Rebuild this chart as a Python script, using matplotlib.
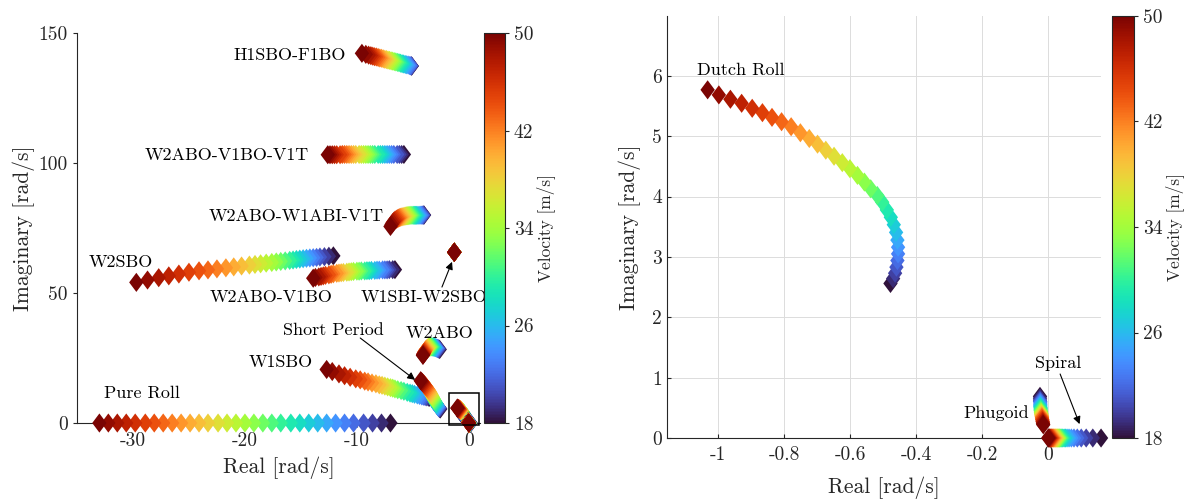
import matplotlib
matplotlib.use("Agg")
import matplotlib.pyplot as plt
from matplotlib.patches import Rectangle

plt.rcParams["font.family"] = ["cmr10", "DejaVu Serif"]
plt.rcParams["axes.unicode_minus"] = False
plt.rcParams["axes.formatter.use_mathtext"] = False

# airspeed sweep [m/s]
velocity = [18, 19, 20, 21, 22, 23, 24, 25, 26, 27, 28, 29, 30, 31, 32, 33, 34,
            35, 36, 37, 38, 39, 40, 41, 42, 43, 44, 45, 46, 47, 48, 49, 50]

# eigenvalue loci, one entry per velocity (real part, imaginary part)
pure_roll_re = [-7.0, -7.8, -8.6, -9.4, -10.3, -11.1, -11.9, -12.7, -13.5, -14.3, -15.1,
                -15.9, -16.8, -17.6, -18.4, -19.2, -20.0, -20.8, -21.6, -22.4, -23.3, -24.1,
                -24.9, -25.7, -26.5, -27.3, -28.1, -28.9, -29.8, -30.6, -31.4, -32.2, -33.0]
pure_roll_im = [0.0, 0.0, 0.0, 0.0, 0.0, 0.0, 0.0, 0.0, 0.0, 0.0, 0.0,
                0.0, 0.0, 0.0, 0.0, 0.0, 0.0, 0.0, 0.0, 0.0, 0.0, 0.0,
                0.0, 0.0, 0.0, 0.0, 0.0, 0.0, 0.0, 0.0, 0.0, 0.0, 0.0]

w2sbo_re = [-12.1, -12.5, -12.9, -13.3, -13.6, -13.9, -14.2, -14.5, -14.8, -15.1, -15.4,
            -15.7, -16.0, -16.4, -16.8, -17.2, -17.6, -18.1, -18.6, -19.1, -19.6, -20.3,
            -21.0, -21.7, -22.5, -23.3, -24.1, -25.0, -25.9, -26.8, -27.7, -28.7, -29.7]
w2sbo_im = [64.3, 64.15, 64.0, 63.85, 63.7, 63.6, 63.5, 63.35, 63.2, 63.05, 62.9,
            62.7, 62.55, 62.35, 62.15, 61.95, 61.75, 61.5, 61.25, 61.0, 60.75, 60.4,
            60.05, 59.7, 59.3, 58.9, 58.55, 58.0, 57.3, 56.6, 55.9, 55.0, 54.1]

w2abo_v1bo_re = [-6.6, -6.8, -7.1, -7.3, -7.5, -7.7, -8.0, -8.2, -8.4, -8.7, -8.9,
                 -9.1, -9.3, -9.6, -9.8, -10.0, -10.3, -10.5, -10.7, -10.9, -11.2, -11.4,
                 -11.6, -11.8, -12.1, -12.3, -12.5, -12.8, -13.0, -13.2, -13.4, -13.7, -13.9]
w2abo_v1bo_im = [59.0, 59.0, 59.0, 58.9, 58.9, 58.9, 58.8, 58.8, 58.7, 58.7, 58.6,
                 58.6, 58.5, 58.5, 58.4, 58.4, 58.3, 58.2, 58.1, 58.0, 57.9, 57.8,
                 57.7, 57.6, 57.4, 57.2, 57.0, 56.8, 56.6, 56.4, 56.2, 56.0, 55.7]

# this pair barely moves with speed: every point sits under the 50 m/s one
w1sbi_w2sbo_re = [-1.3, -1.3, -1.3, -1.3, -1.3, -1.3, -1.3, -1.3, -1.3, -1.3, -1.3,
                  -1.3, -1.3, -1.3, -1.3, -1.3, -1.3, -1.3, -1.3, -1.3, -1.3, -1.3,
                  -1.3, -1.3, -1.3, -1.3, -1.3, -1.3, -1.3, -1.3, -1.3, -1.3, -1.3]
w1sbi_w2sbo_im = [65.7, 65.7, 65.7, 65.7, 65.7, 65.7, 65.7, 65.7, 65.7, 65.7, 65.7,
                  65.7, 65.7, 65.7, 65.7, 65.7, 65.7, 65.7, 65.7, 65.7, 65.7, 65.7,
                  65.7, 65.7, 65.7, 65.7, 65.7, 65.7, 65.7, 65.7, 65.7, 65.7, 65.7]

w2abo_w1abi_v1t_re = [-4.0, -4.02, -4.05, -4.1, -4.17, -4.25, -4.35, -4.45, -4.55, -4.66, -4.76,
                      -4.86, -4.96, -5.07, -5.17, -5.27, -5.37, -5.47, -5.58, -5.68, -5.78, -5.88,
                      -5.98, -6.09, -6.19, -6.29, -6.39, -6.49, -6.6, -6.7, -6.8, -6.9, -7.0]
w2abo_w1abi_v1t_im = [80.0, 80.0, 80.0, 80.0, 79.95, 79.95, 79.95, 79.9, 79.9, 79.9, 79.9,
                      79.9, 79.9, 79.9, 79.9, 79.85, 79.8, 79.75, 79.7, 79.6, 79.5, 79.4,
                      79.3, 79.15, 79.0, 78.8, 78.6, 78.3, 78.0, 77.6, 77.1, 76.4, 75.6]

w2abo_v1bo_v1t_re = [-5.8, -6.0, -6.2, -6.4, -6.7, -6.9, -7.1, -7.3, -7.5, -7.7, -7.9,
                     -8.1, -8.4, -8.6, -8.8, -9.0, -9.2, -9.4, -9.6, -9.8, -10.1, -10.3,
                     -10.5, -10.7, -10.9, -11.1, -11.3, -11.5, -11.8, -12.0, -12.2, -12.4, -12.6]
w2abo_v1bo_v1t_im = [103.3, 103.3, 103.3, 103.3, 103.3, 103.3, 103.3, 103.3, 103.3, 103.3, 103.3,
                     103.3, 103.3, 103.3, 103.3, 103.3, 103.3, 103.3, 103.3, 103.3, 103.3, 103.3,
                     103.3, 103.3, 103.3, 103.3, 103.3, 103.2, 103.2, 103.2, 103.2, 103.2, 103.2]

h1sbo_f1bo_re = [-5.10, -5.11, -5.13, -5.16, -5.20, -5.30, -5.42, -5.55, -5.68, -5.82, -5.96,
                 -6.10, -6.24, -6.38, -6.52, -6.66, -6.80, -6.94, -7.08, -7.22, -7.36, -7.50,
                 -7.65, -7.80, -7.95, -8.10, -8.26, -8.42, -8.58, -8.75, -8.95, -9.20, -9.55]
h1sbo_f1bo_im = [137.3, 137.3, 137.35, 137.4, 137.4, 137.5, 137.7, 137.8, 137.9, 138.1, 138.2,
                 138.4, 138.6, 138.7, 138.9, 139.0, 139.2, 139.3, 139.5, 139.6, 139.8, 139.9,
                 140.1, 140.3, 140.4, 140.6, 140.8, 140.9, 141.1, 141.3, 141.5, 141.8, 142.2]

w2abo_re = [-2.60, -2.65, -2.70, -2.75, -2.80, -2.86, -2.92, -2.98, -3.04, -3.10, -3.16,
            -3.22, -3.28, -3.34, -3.40, -3.46, -3.52, -3.57, -3.62, -3.67, -3.72, -3.77,
            -3.81, -3.85, -3.89, -3.93, -3.96, -3.99, -4.02, -4.05, -4.07, -4.09, -4.10]
w2abo_im = [28.3, 28.4, 28.5, 28.6, 28.7, 28.8, 28.9, 29.0, 29.1, 29.15, 29.2,
            29.25, 29.3, 29.3, 29.3, 29.25, 29.2, 29.1, 29.0, 28.85, 28.7, 28.5,
            28.3, 28.1, 27.85, 27.6, 27.35, 27.1, 26.85, 26.6, 26.4, 26.2, 26.0]

w1sbo_re = [-3.5, -3.6, -3.75, -3.9, -4.05, -4.2, -4.4, -4.6, -4.85, -5.05, -5.25,
            -5.5, -5.8, -6.05, -6.35, -6.6, -6.8, -7.0, -7.25, -7.5, -7.75, -8.0,
            -8.3, -8.65, -9.0, -9.3, -9.7, -10.1, -10.6, -11.1, -11.6, -12.2, -12.7]
w1sbo_im = [9.9, 9.95, 10.05, 10.15, 10.3, 10.4, 10.6, 10.8, 11.05, 11.3, 11.5,
            11.8, 12.2, 12.5, 12.8, 13.1, 13.4, 13.6, 13.9, 14.2, 14.5, 14.7,
            15.1, 15.4, 15.8, 16.1, 16.6, 17.0, 17.6, 18.2, 18.9, 19.8, 20.6]

short_period_re = [-2.55, -2.59, -2.63, -2.67, -2.70, -2.74, -2.77, -2.81, -2.85, -2.89, -2.93,
                   -2.97, -3.02, -3.07, -3.12, -3.17, -3.22, -3.27, -3.32, -3.37, -3.42, -3.48,
                   -3.55, -3.62, -3.70, -3.77, -3.85, -3.92, -4.00, -4.07, -4.15, -4.22, -4.30]
short_period_im = [5.4, 5.55, 5.7, 5.85, 6.0, 6.2, 6.4, 6.7, 7.0, 7.3, 7.6,
                   7.95, 8.3, 8.7, 9.1, 9.5, 9.9, 10.3, 10.7, 11.1, 11.5, 11.95,
                   12.4, 12.85, 13.3, 13.7, 14.1, 14.5, 14.9, 15.25, 15.6, 15.95, 16.3]

dutch_roll_re = [-0.478, -0.470, -0.464, -0.460, -0.457, -0.455, -0.455, -0.457, -0.461, -0.468, -0.477,
                 -0.489, -0.503, -0.518, -0.538, -0.557, -0.578, -0.601, -0.624, -0.649, -0.674, -0.699,
                 -0.724, -0.751, -0.779, -0.808, -0.837, -0.866, -0.897, -0.929, -0.963, -0.998, -1.032]
dutch_roll_im = [2.56, 2.64, 2.73, 2.83, 2.94, 3.05, 3.16, 3.278, 3.406, 3.533, 3.656,
                 3.778, 3.906, 4.017, 4.128, 4.239, 4.350, 4.461, 4.561, 4.667, 4.767, 4.867,
                 4.961, 5.056, 5.156, 5.239, 5.311, 5.389, 5.461, 5.544, 5.611, 5.683, 5.767]

phugoid_re = [-0.025, -0.025, -0.025, -0.025, -0.024, -0.024, -0.024, -0.024, -0.024, -0.024, -0.023,
              -0.023, -0.023, -0.023, -0.022, -0.022, -0.022, -0.021, -0.021, -0.021, -0.020, -0.020,
              -0.020, -0.019, -0.019, -0.019, -0.018, -0.018, -0.017, -0.017, -0.016, -0.016, -0.015]
phugoid_im = [0.69, 0.66, 0.63, 0.61, 0.60, 0.58, 0.56, 0.545, 0.53, 0.515, 0.50,
              0.485, 0.47, 0.455, 0.44, 0.43, 0.42, 0.41, 0.40, 0.39, 0.38, 0.37,
              0.36, 0.35, 0.34, 0.33, 0.31, 0.30, 0.28, 0.27, 0.25, 0.235, 0.22]

spiral_re = [0.160, 0.135, 0.115, 0.100, 0.088, 0.078, 0.070, 0.063, 0.057, 0.052, 0.048,
             0.044, 0.041, 0.038, 0.035, 0.033, 0.031, 0.029, 0.027, 0.025, 0.023, 0.021,
             0.019, 0.017, 0.015, 0.013, 0.011, 0.009, 0.007, 0.005, 0.004, 0.002, 0.0]
spiral_im = [0.0, 0.0, 0.0, 0.0, 0.0, 0.0, 0.0, 0.0, 0.0, 0.0, 0.0,
             0.0, 0.0, 0.0, 0.0, 0.0, 0.0, 0.0, 0.0, 0.0, 0.0, 0.0,
             0.0, 0.0, 0.0, 0.0, 0.0, 0.0, 0.0, 0.0, 0.0, 0.0, 0.0]

all_modes = [
    (pure_roll_re, pure_roll_im),
    (w2sbo_re, w2sbo_im),
    (w2abo_v1bo_re, w2abo_v1bo_im),
    (w1sbi_w2sbo_re, w1sbi_w2sbo_im),
    (w2abo_w1abi_v1t_re, w2abo_w1abi_v1t_im),
    (w2abo_v1bo_v1t_re, w2abo_v1bo_v1t_im),
    (h1sbo_f1bo_re, h1sbo_f1bo_im),
    (w2abo_re, w2abo_im),
    (w1sbo_re, w1sbo_im),
    (short_period_re, short_period_im),
    (dutch_roll_re, dutch_roll_im),
    (phugoid_re, phugoid_im),
    (spiral_re, spiral_im),
]
low_freq_modes = [
    (dutch_roll_re, dutch_roll_im),
    (phugoid_re, phugoid_im),
    (spiral_re, spiral_im),
]

# labels: text, x, y
left_labels = [
    ("H1SBO-F1BO", -16.0, 141.5),
    ("W2ABO-V1BO-V1T", -21.6, 103.0),
    ("W2ABO-W1ABI-V1T", -15.4, 79.6),
    ("W2SBO", -31.1, 61.9),
    ("W2ABO-V1BO", -17.7, 48.5),
    ("W1SBI-W2SBO", -4.0, 48.5),
    ("Short Period", -12.1, 35.8),
    ("W2ABO", -2.6, 34.6),
    ("W1SBO", -16.8, 23.5),
    ("Pure Roll", -29.2, 11.5),
]
right_labels = [
    ("Dutch Roll", -0.933, 6.09),
    ("Phugoid", -0.158, 0.415),
    ("Spiral", 0.030, 1.24),
]

AX_COLOR = "#262626"
V_MIN, V_MAX = 18, 50
CBAR_TICKS = [18, 26, 34, 42, 50]

# MATLAB-like diamond: a bit taller than wide
diamond = [(0.0, 1.0), (0.75, 0.0), (0.0, -1.0), (-0.75, 0.0), (0.0, 1.0)]


def draw_modes(ax, modes):
    sc = None
    for re, im in modes:
        sc = ax.scatter(re, im, c=velocity, cmap="turbo", vmin=V_MIN, vmax=V_MAX,
                        marker=diamond, s=190, linewidths=0, clip_on=False, zorder=3)
    return sc


def style_axes(ax, xpad, ypad, tickpad):
    for side in ("top", "right"):
        ax.spines[side].set_visible(False)
    for side in ("left", "bottom"):
        ax.spines[side].set_color(AX_COLOR)
        ax.spines[side].set_linewidth(0.8)
    ax.tick_params(colors=AX_COLOR, labelcolor=AX_COLOR, labelsize=14, width=0.8, length=3)
    ax.tick_params(axis="x", pad=tickpad)
    ax.set_xlabel("Real [rad/s]", fontsize=15.5, color=AX_COLOR, labelpad=xpad)
    ax.set_ylabel("Imaginary [rad/s]", fontsize=15.5, color=AX_COLOR, labelpad=ypad)


def add_colorbar(fig, sc, rect):
    cax = fig.add_axes(rect)
    cb = fig.colorbar(sc, cax=cax, ticks=CBAR_TICKS)
    cb.outline.set_edgecolor(AX_COLOR)
    cb.outline.set_linewidth(0.8)
    cax.tick_params(colors=AX_COLOR, labelcolor=AX_COLOR, labelsize=14, width=0.8, length=3)
    cb.set_label("Velocity [m/s]", fontsize=12.5, color=AX_COLOR, labelpad=1.5)
    return cb


fig = plt.figure(figsize=(11.92, 5.03), dpi=100)

# left: full root locus
ax1 = fig.add_axes([0.0646, 0.159, 0.3381, 0.7753])
sc1 = draw_modes(ax1, all_modes)
ax1.set_xlim(-35, 1)
ax1.set_ylim(0, 150)
ax1.set_xticks([-30, -20, -10, 0])
ax1.set_xticklabels(["-30", "-20", "-10", "0"])
ax1.set_yticks([0, 50, 100, 150])
ax1.set_yticklabels(["0", "50", "100", "150"])
ax1.tick_params(direction="out")
style_axes(ax1, xpad=5, ypad=2.5, tickpad=3.5)
for text, x, y in left_labels:
    ax1.text(x, y, text, fontsize=13, ha="center", va="center", color="k")
arrow = dict(arrowstyle="-|>", color="k", lw=0.8, mutation_scale=11, shrinkA=0, shrinkB=0)
ax1.annotate("", xy=(-4.8, 16.6), xytext=(-9.7, 32.7), arrowprops=arrow)
ax1.annotate("", xy=(-1.5, 62.0), xytext=(-2.4, 52.3), arrowprops=arrow)
ax1.add_patch(Rectangle((-1.79, -0.8), 2.71, 12.2, fill=False, ec="k", lw=1.1,
                        clip_on=False, zorder=4))
add_colorbar(fig, sc1, [0.4060, 0.159, 0.0176, 0.7753])

# right: zoom on the low-frequency modes
ax2 = fig.add_axes([0.5596, 0.1292, 0.3641, 0.839])
sc2 = draw_modes(ax2, low_freq_modes)
ax2.set_xlim(-1.155, 0.16)
ax2.set_ylim(0, 6.99)
ax2.set_xticks([-1, -0.8, -0.6, -0.4, -0.2, 0])
ax2.set_xticklabels(["-1", "-0.8", "-0.6", "-0.4", "-0.2", "0"])
ax2.set_yticks([0, 1, 2, 3, 4, 5, 6])
ax2.set_yticklabels(["0", "1", "2", "3", "4", "5", "6"])
ax2.tick_params(direction="in")
ax2.grid(True, color="#dcdcdc", lw=0.7)
ax2.set_axisbelow(True)
style_axes(ax2, xpad=9, ypad=8, tickpad=6)
for text, x, y in right_labels:
    ax2.text(x, y, text, fontsize=13, ha="center", va="center", color="k")
ax2.annotate("", xy=(0.095, 0.23), xytext=(0.036, 1.06), arrowprops=arrow)
add_colorbar(fig, sc2, [0.9329, 0.1292, 0.0185, 0.839])

fig.savefig("out.png", dpi=100)
